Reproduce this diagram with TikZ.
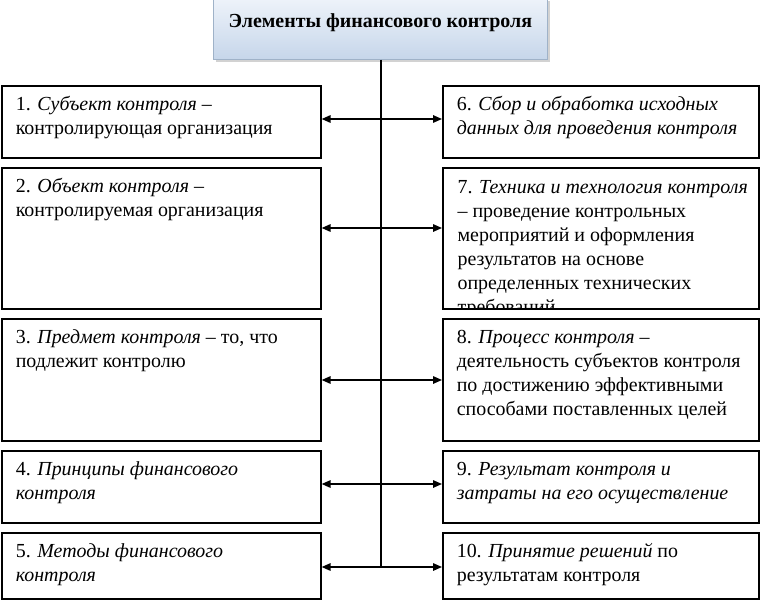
\documentclass[tikz,border=0pt]{standalone}
\usepackage{fontspec}
\setmainfont{Liberation Serif}
\usetikzlibrary{arrows.meta,shadows}
\definecolor{titletop}{HTML}{EEF3FA}
\definecolor{titlebot}{HTML}{C6D6EA}
\definecolor{titleline}{HTML}{9FB2C8}
\newcommand\boxtxt[3]{\parbox[c][#1][t]{#2}{\raggedright\rule{0pt}{25bp}#3}}
\begin{document}
\begin{tikzpicture}[x=1bp,y=-1bp,
  boxfont/.style={font=\fontsize{20}{24}\selectfont},
  box/.style={draw, line width=1.6bp, inner xsep=14bp, inner ysep=0pt, anchor=north west, boxfont},
  titlebox/.style={draw=titleline, line width=0.8bp, top color=titletop, bottom color=titlebot,
    inner sep=0pt, anchor=north west,
    drop shadow={shadow xshift=3bp, shadow yshift=-3bp, fill=black!35},
    font=\fontsize{20}{24}\selectfont\bfseries},
  link/.style={line width=1.5bp, {Triangle[length=9bp,width=7.5bp]}-{Triangle[length=9bp,width=7.5bp]}},
  trunk/.style={line width=1.5bp}]
\useasboundingbox (0,0) rectangle (761,600);

\node[titlebox] (title) at (213,-2)
  {\parbox[c][61bp][t]{334bp}{\centering\rule{0pt}{29bp}Элементы финансового контроля}};

% left column
\node[box] (l1) at (1,85)  {\boxtxt{72bp}{291bp}{1. \textit{Субъект контроля} –\\ контролирующая организация}};
\node[box] (l2) at (1,167) {\boxtxt{141bp}{291bp}{2. \textit{Объект контроля} –\\ контролируемая организация}};
\node[box] (l3) at (1,318) {\boxtxt{122bp}{291bp}{3. \textit{Предмет контроля} – то, что\\ подлежит контролю}};
\node[box] (l4) at (1,450) {\boxtxt{72bp}{291bp}{4. \textit{Принципы финансового}\\ \textit{контроля}}};
\node[box] (l5) at (1,532) {\boxtxt{66bp}{291bp}{5. \textit{Методы финансового}\\ \textit{контроля}}};

% right column
\node[box] (r1) at (442,85)  {\boxtxt{72bp}{288bp}{6. \textit{Сбор и обработка исходных}\\ \textit{данных для проведения контроля}}};
\node[box, minimum width=316bp, minimum height=141bp,
  path picture={\node[draw=none, anchor=north west, inner xsep=14bp, inner ysep=0pt, boxfont]
    (r2text) at (path picture bounding box.north west)
    {\boxtxt{141bp}{300bp}{7. \textit{Техника и технология контроля}\\ – проведение контрольных\\ мероприятий и оформления\\ результатов на основе\\ определенных технических\\ требований}};}]
  (r2) at (442,167) {};
\node[box] (r3) at (442,318) {\boxtxt{122bp}{288bp}{8. \textit{Процесс контроля} –\\ деятельность субъектов контроля\\ по достижению эффективными\\ способами поставленных целей}};
\node[box] (r4) at (442,450) {\boxtxt{72bp}{288bp}{9. \textit{Результат контроля и}\\ \textit{затраты на его осуществление}}};
\node[box] (r5) at (442,532) {\boxtxt{66bp}{288bp}{10. \textit{Принятие решений} по\\ результатам контроля}};

% connector levels on the trunk
\coordinate (a1) at (381,119);
\coordinate (a2) at (381,228);
\coordinate (a3) at (381,380);
\coordinate (a4) at (381,484);
\coordinate (a5) at (381,567);

\draw[trunk] (title.south -| a5) -- (a5);
\draw[link] (a1 -| l1.east) -- (a1 -| r1.west);
\draw[link] (a2 -| l2.east) -- (a2 -| r2.west);
\draw[link] (a3 -| l3.east) -- (a3 -| r3.west);
\draw[link] (a4 -| l4.east) -- (a4 -| r4.west);
\draw[link] (a5 -| l5.east) -- (a5 -| r5.west);
\end{tikzpicture}
\end{document}
